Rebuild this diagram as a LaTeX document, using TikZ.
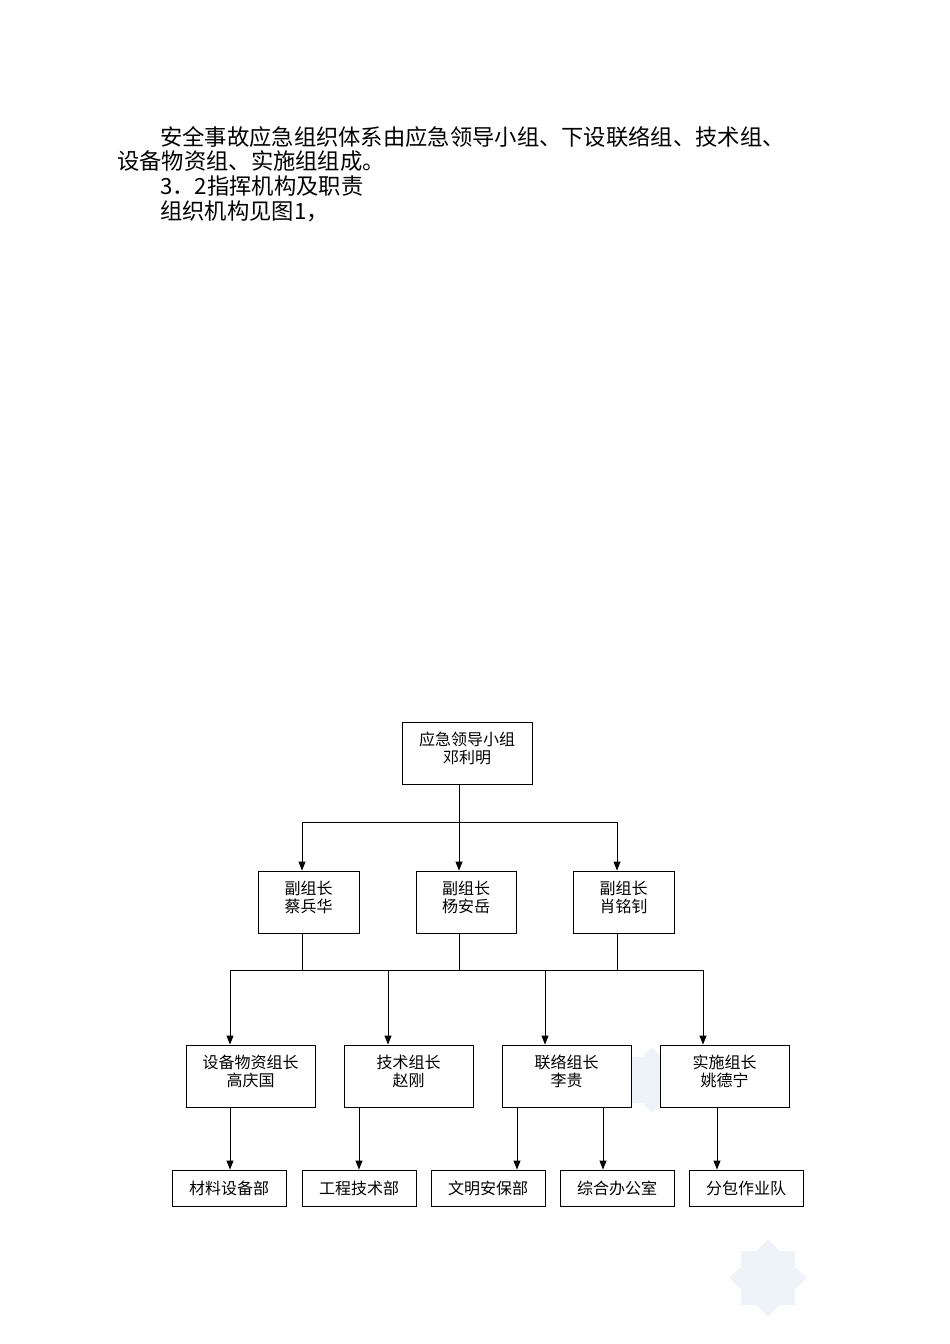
\documentclass[tikz,border=0pt]{standalone}
\usepackage{fontspec}
\newfontfamily\cjk{Noto Sans CJK SC}
\usetikzlibrary{arrows.meta}
\definecolor{wm}{HTML}{EEF3FA}
\tikzset{
  box/.style={draw, line width=0.9pt, fill=white, inner sep=0pt},
  lbl/.style={align=center, font=\cjk\fontsize{16}{18.5}\selectfont, yshift=4.5pt},
  lbl0/.style={align=center, font=\cjk\fontsize{16}{18.5}\selectfont},
  para/.style={anchor=west, inner sep=0pt, font=\cjk\fontsize{22.3}{25}\selectfont},
  conn/.style={line width=0.9pt},
  arr/.style={line width=0.9pt, -{Triangle[width=7pt,length=9pt]}},
}
\begin{document}
\begin{tikzpicture}[x=1pt,y=-1pt]
\useasboundingbox (0,0) rectangle (950,1344);
% faint watermarks
\foreach \cx/\cy/\r in {652/1080/32, 768/1278/38}{
  \fill[wm] (\cx,\cy) ++(-\r*0.72,-\r*0.72) rectangle ++(\r*1.44,\r*1.44);
  \fill[wm, rotate around={45:(\cx,\cy)}] (\cx,\cy) ++(-\r*0.72,-\r*0.72) rectangle ++(\r*1.44,\r*1.44);
}
% paragraph
\node[para] (p1) at (160,137) {安全事故应急组织体系由应急领导小组、下设联络组、技术组、};
\node[para] (p2) at (117,161.5) {设备物资组、实施组组成。};
\node[para] (p3) at (160,186) {3．2指挥机构及职责};
\node[para] (p4) at (160,211) {组织机构见图1，};
% boxes
\node[box, minimum width=130, minimum height=62, label={[lbl]center:应急领导小组\\邓利明}] (top) at (467,753) {};
\node[box, minimum width=101, minimum height=62, label={[lbl]center:副组长\\蔡兵华}] (b1) at (308.5,902) {};
\node[box, minimum width=100, minimum height=62, label={[lbl]center:副组长\\杨安岳}] (b2) at (466,902) {};
\node[box, minimum width=101, minimum height=62, label={[lbl]center:副组长\\肖铭钊}] (b3) at (623.5,902) {};
\node[box, minimum width=129, minimum height=62, label={[lbl]center:设备物资组长\\高庆国}] (cA) at (250.5,1076) {};
\node[box, minimum width=129, minimum height=62, label={[lbl]center:技术组长\\赵刚}] (cB) at (408.5,1076) {};
\node[box, minimum width=129, minimum height=62, label={[lbl]center:联络组长\\李贵}] (cC) at (566.5,1076) {};
\node[box, minimum width=129, minimum height=62, label={[lbl]center:实施组长\\姚德宁}] (cD) at (724.5,1076) {};
\node[box, minimum width=114, minimum height=36, label={[lbl0]center:材料设备部}] (d1) at (229,1188) {};
\node[box, minimum width=114, minimum height=36, label={[lbl0]center:工程技术部}] (d2) at (359,1188) {};
\node[box, minimum width=114, minimum height=36, label={[lbl0]center:文明安保部}] (d3) at (488,1188) {};
\node[box, minimum width=114, minimum height=36, label={[lbl0]center:综合办公室}] (d4) at (617,1188) {};
\node[box, minimum width=114, minimum height=36, label={[lbl0]center:分包作业队}] (d5) at (746,1188) {};
% junction coordinates
\coordinate (j1) at (459,822);
\coordinate (j1l) at (302,822);
\coordinate (j1r) at (617,822);
\coordinate (j2) at (459,970);
\coordinate (j2a) at (230,970);
\coordinate (j2b) at (388,970);
\coordinate (j2c) at (545,970);
\coordinate (j2d) at (703,970);
\coordinate (j2l) at (302,970);
\coordinate (j2r) at (617,970);
% level 1 -> 2
\draw[conn] (top.south -| j1) -- (j1);
\draw[conn] (j1l) -- (j1r);
\draw[arr] (j1l) -- (b1.north -| j1l);
\draw[arr] (j1) -- (b2.north -| j1);
\draw[arr] (j1r) -- (b3.north -| j1r);
% level 2 -> 3
\draw[conn] (b1.south -| j2l) -- (j2l);
\draw[conn] (b2.south -| j2) -- (j2);
\draw[conn] (b3.south -| j2r) -- (j2r);
\draw[conn] (j2a) -- (j2d);
\draw[arr] (j2a) -- (cA.north -| j2a);
\draw[arr] (j2b) -- (cB.north -| j2b);
\draw[arr] (j2c) -- (cC.north -| j2c);
\draw[arr] (j2d) -- (cD.north -| j2d);
% level 3 -> 4
\coordinate (k1) at (230,0);
\coordinate (k2) at (359,0);
\coordinate (k3) at (517,0);
\coordinate (k4) at (603,0);
\coordinate (k5) at (717,0);
\draw[arr] (cA.south -| k1) -- (d1.north -| k1);
\draw[arr] (cB.south -| k2) -- (d2.north -| k2);
\draw[arr] (cC.south -| k3) -- (d3.north -| k3);
\draw[arr] (cC.south -| k4) -- (d4.north -| k4);
\draw[arr] (cD.south -| k5) -- (d5.north -| k5);
\end{tikzpicture}
\end{document}
